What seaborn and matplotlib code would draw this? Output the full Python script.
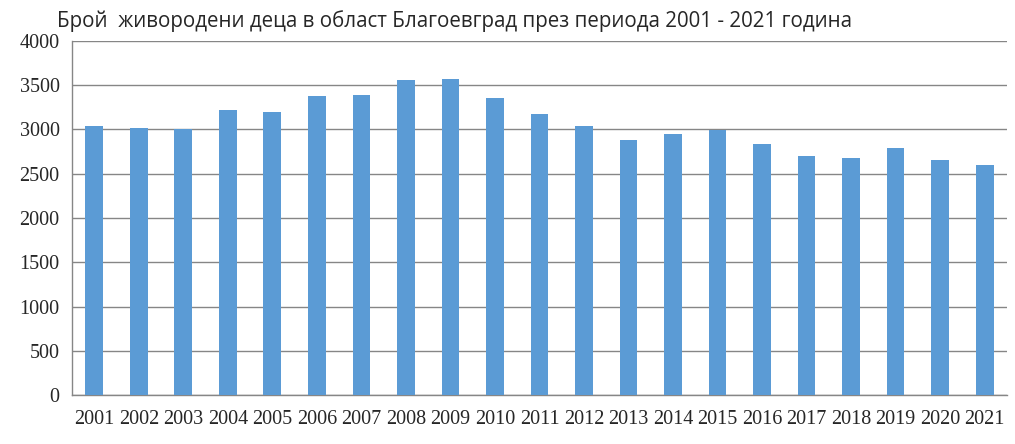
import matplotlib
matplotlib.use("Agg")
import matplotlib.pyplot as plt
import seaborn as sns
import pandas as pd
import numpy as np

years = [str(y) for y in range(2001, 2022)]
births = [3040, 3015, 3000, 3220, 3195, 3378, 3390, 3560, 3570, 3356,
          3174, 3037, 2878, 2947, 2998, 2833, 2697, 2674, 2788, 2652, 2595]
title = "Брой  живородени деца в област Благоевград през периода 2001 - 2021 година"
yticks = [0, 500, 1000, 1500, 2000, 2500, 3000, 3500, 4000]

df = pd.DataFrame({"year": years, "births": births})

sns.set_style("white")
fig = plt.figure(figsize=(10.15, 4.44), dpi=100)
ax = fig.add_axes([0.071, 0.110, 0.921, 0.798])

sns.barplot(data=df, x="year", y="births", color="#5B9BD5", width=0.4,
            saturation=1, linewidth=0, ax=ax)
for p in ax.patches:
    p.set_zorder(3)

grid_c = "#868686"
ax.set_ylim(0, 4000)
ax.set_yticks(yticks)
ax.set_yticklabels([str(v) for v in yticks], family="Liberation Serif", fontsize=14.5)
ax.set_xlim(-0.5, len(years) - 0.5)
ax.set_xticks(range(len(years)))
ax.set_xticklabels(years, family="Liberation Serif", fontsize=14.5)
ax.set_xticks(np.arange(-0.5, len(years), 1.0), minor=True)
ax.tick_params(axis="x", which="major", length=0, pad=11)
ax.tick_params(axis="x", which="minor", length=6, color=grid_c, width=1)
ax.tick_params(axis="y", length=5, color=grid_c, width=1, pad=4)
ax.set_xlabel("")
ax.set_ylabel("")
ax.yaxis.grid(True, color=grid_c, linewidth=1, zorder=0)
ax.set_axisbelow(True)
for s in ["top", "right"]:
    ax.spines[s].set_visible(False)
for s in ["left", "bottom"]:
    ax.spines[s].set_color(grid_c)
    ax.spines[s].set_linewidth(1)

fig.text(0.056, 0.953, title, family="Open Sans", fontsize=14.8, va="center", ha="left")

fig.savefig("out.png", dpi=100)
